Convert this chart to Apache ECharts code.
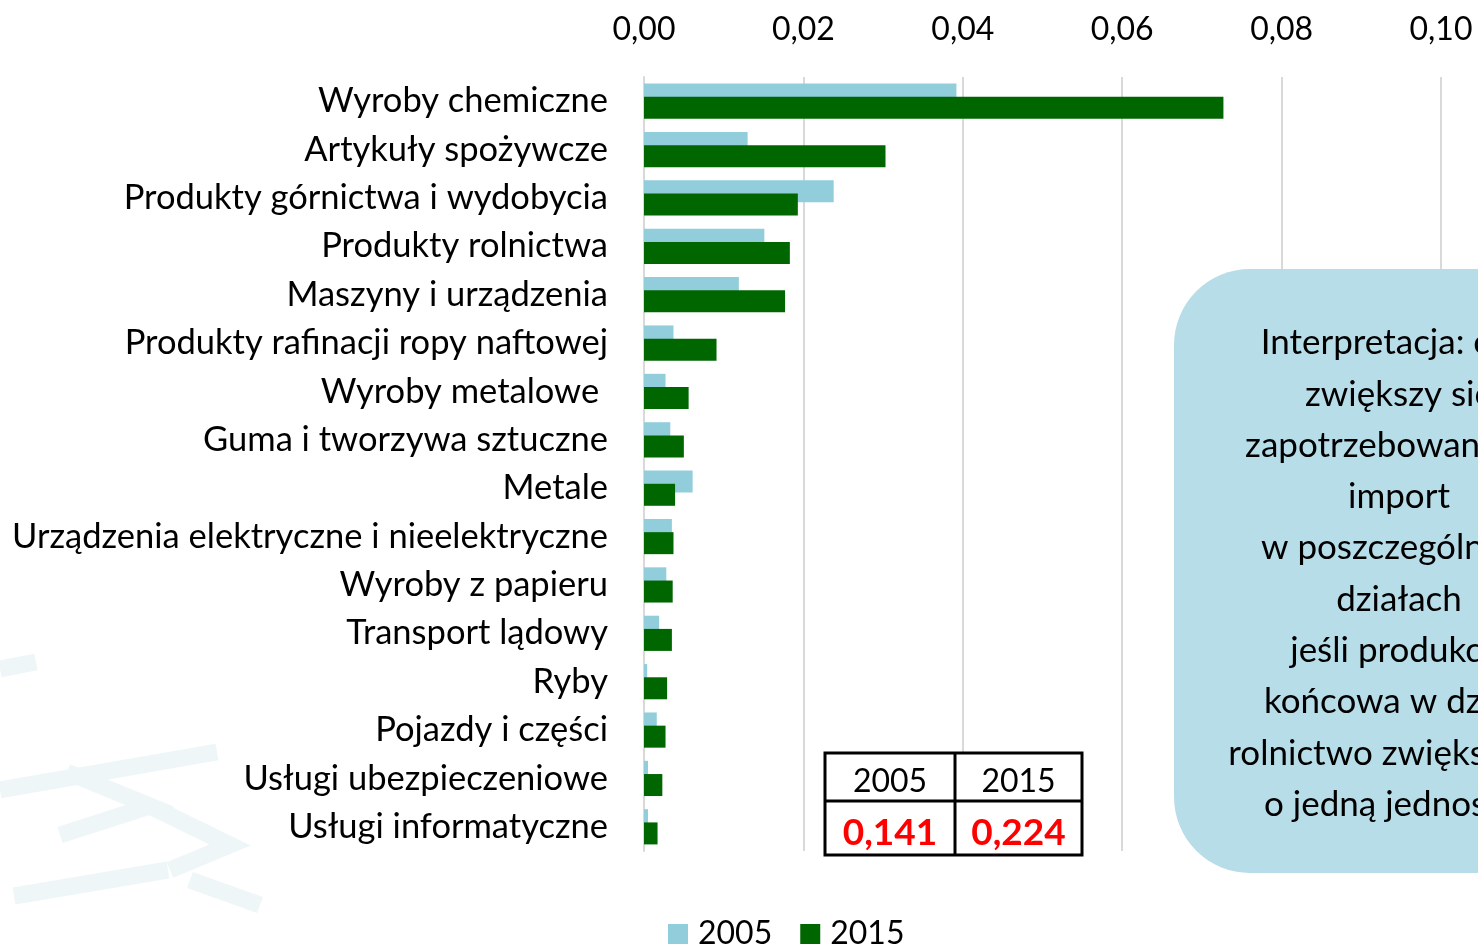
<!DOCTYPE html>
<html>
<head>
<meta charset="utf-8">
<script src="https://cdn.jsdelivr.net/npm/echarts@6/dist/echarts.min.js"></script>
<style>
html,body{margin:0;padding:0;background:#fff;}
#chart{width:1478px;height:949px;}
</style>
</head>
<body>
<div id="chart"></div>
<script>
const categories = [
  'Wyroby chemiczne',
  'Artykuły spożywcze',
  'Produkty górnictwa i wydobycia',
  'Produkty rolnictwa',
  'Maszyny i urządzenia',
  'Produkty rafinacji ropy naftowej',
  'Wyroby metalowe ',
  'Guma i tworzywa sztuczne',
  'Metale',
  'Urządzenia elektryczne i nieelektryczne',
  'Wyroby z papieru',
  'Transport lądowy',
  'Ryby',
  'Pojazdy i części',
  'Usługi ubezpieczeniowe',
  'Usługi informatyczne'
];
const values2005 = [0.0392, 0.0130, 0.0238, 0.0151, 0.0119, 0.0037, 0.0027, 0.0033, 0.0061, 0.0035, 0.0028, 0.0019, 0.0004, 0.0016, 0.0005, 0.0005];
const values2015 = [0.0727, 0.0303, 0.0193, 0.0183, 0.0177, 0.0091, 0.0056, 0.0050, 0.0039, 0.0037, 0.0036, 0.0035, 0.0029, 0.0027, 0.0023, 0.0017];
const seriesNames = ['2005', '2015'];
const tableYears = ['2005', '2015'];
const tableTotals = ['0,141', '0,224'];
const noteLines = [
  'Interpretacja: o ile',
  'zwiększy się',
  'zapotrzebowanie na',
  'import',
  'w poszczególnych',
  'działach',
  'jeśli produkcja',
  'końcowa w dziale',
  'rolnictwo zwiększy się',
  'o jedną jednostkę'
];

const FONT = 'Lato, "Open Sans", sans-serif';
const chart = echarts.init(document.getElementById('chart'), null, {renderer: 'canvas'});

const graphics = [];
// faint watermark
const wm = [
  [[0,669],[36,662]],
  [[0,790],[217,752]],
  [[67,772],[150,806],[60,835]],
  [[14,896],[168,870]],
  [[150,806],[230,845],[170,870]],
  [[190,880],[260,905]]
];
wm.forEach(p => graphics.push({type:'polyline', z:-10, silent:true, shape:{points:p}, style:{stroke:'#eff6f8', lineWidth:17, fill:null}}));

// note box
graphics.push({type:'rect', z:10, shape:{x:1174, y:269, width:420, height:604, r:76}, style:{fill:'#b7dde8'}});
noteLines.forEach((t,i) => graphics.push({type:'text', z:11, style:{text:t, x:1399, y:343 + i*51.3, align:'center', verticalAlign:'middle', font:'35px ' + FONT, fill:'#000'}}));

// table
const tx = [825, 955, 1082], ty = [753, 801, 855];
graphics.push({type:'rect', z:10, shape:{x:tx[0], y:ty[0], width:tx[2]-tx[0], height:ty[2]-ty[0]}, style:{fill:'#fff', stroke:'#000', lineWidth:3}});
graphics.push({type:'line', z:11, shape:{x1:tx[1], y1:ty[0], x2:tx[1], y2:ty[2]}, style:{stroke:'#000', lineWidth:3}});
graphics.push({type:'line', z:11, shape:{x1:tx[0], y1:ty[1], x2:tx[2], y2:ty[1]}, style:{stroke:'#000', lineWidth:3}});
tableYears.forEach((t,i) => graphics.push({type:'text', z:12, style:{text:t, x:(tx[i]+tx[i+1])/2, y:(ty[0]+ty[1])/2+5, align:'center', verticalAlign:'middle', font:'32px ' + FONT, fill:'#000'}}));
tableTotals.forEach((t,i) => graphics.push({type:'text', z:12, style:{text:t, x:(tx[i]+tx[i+1])/2, y:(ty[1]+ty[2])/2+5, align:'center', verticalAlign:'middle', font:'bold 37px ' + FONT, fill:'#ff0000'}}));

const option = {
  backgroundColor: '#ffffff',
  animation: false,
  grid: {left: 644, right: 37, top: 77, bottom: 98, containLabel: false},
  legend: {
    data: seriesNames,
    left: 668, top: 918, padding: 0,
    icon: 'rect', itemWidth: 20, itemHeight: 20, itemGap: 28,
    textStyle: {fontFamily: FONT, fontSize: 32, color: '#000', padding: [0,0,0,5]}
  },
  xAxis: {
    type: 'value', position: 'top', min: 0, max: 0.10, interval: 0.02,
    axisLine: {show: false}, axisTick: {show: false},
    axisLabel: {margin: 31, fontFamily: FONT, fontSize: 32, color: '#000',
      formatter: v => v.toFixed(2).replace('.', ',')},
    splitLine: {show: true, lineStyle: {color: '#d9d9d9', width: 2}}
  },
  yAxis: {
    type: 'category', data: categories, inverse: true,
    axisLine: {show: true, lineStyle: {color: '#d9d9d9', width: 2}},
    axisTick: {show: false},
    axisLabel: {margin: 36, fontFamily: FONT, fontSize: 34.5, color: '#000'}
  },
  series: [
    {name: seriesNames[0], type: 'bar', data: values2005, barWidth: 22, barGap: '-40%', itemStyle: {color: '#92cddc'}},
    {name: seriesNames[1], type: 'bar', data: values2015, barWidth: 22, barGap: '-40%', itemStyle: {color: '#006600'}}
  ],
  graphic: graphics
};
chart.setOption(option);
</script>
</body>
</html>
